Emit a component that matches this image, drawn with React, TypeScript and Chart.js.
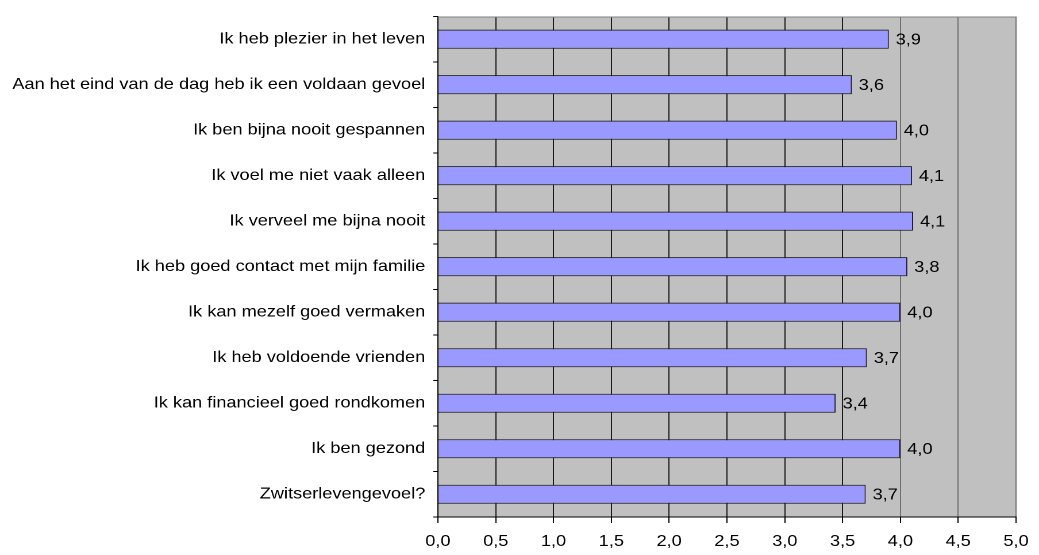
import { useEffect, useRef } from 'react';
import { Chart, registerables } from 'chart.js';

Chart.register(...registerables);

const categories = [
  'Ik heb plezier in het leven',
  'Aan het eind van de dag heb ik een voldaan gevoel',
  'Ik ben bijna nooit gespannen',
  'Ik voel me niet vaak alleen',
  'Ik verveel me bijna nooit',
  'Ik heb goed contact met mijn familie',
  'Ik kan mezelf goed vermaken',
  'Ik heb voldoende vrienden',
  'Ik kan financieel goed rondkomen',
  'Ik ben gezond',
  'Zwitserlevengevoel?',
];

// bar lengths as drawn in the picture
const scores = [3.9, 3.58, 3.97, 4.1, 4.11, 4.06, 4.0, 3.71, 3.44, 4.0, 3.7];
// data labels as printed next to the bars
const scoreLabels = ['3,9', '3,6', '4,0', '4,1', '4,1', '3,8', '4,0', '3,7', '3,4', '4,0', '3,7'];

const xMin = 0;
const xMax = 5;
const xStep = 0.5;

const FONT = "'Liberation Sans', Arial, sans-serif";
const FONT_SIZE = 15.8;
const CANVAS_W = 904;
const STRETCH = 1039 / CANVAS_W;

const fmt = (v: number) => v.toFixed(1).replace('.', ',');

export default function App() {
  const ref = useRef<HTMLCanvasElement | null>(null);

  useEffect(() => {
    if (!ref.current) return;

    const plotBg = {
      id: 'plotBg',
      beforeDraw(chart: any) {
        const { ctx, chartArea: a } = chart;
        ctx.save();
        ctx.fillStyle = '#C0C0C0';
        ctx.fillRect(a.left, a.top, a.right - a.left, a.bottom - a.top);
        ctx.restore();
      },
      afterDraw(chart: any) {
        const { ctx, chartArea: a } = chart;
        ctx.save();
        ctx.strokeStyle = '#808080';
        ctx.lineWidth = 1;
        ctx.beginPath();
        ctx.moveTo(a.left, a.top + 0.5);
        ctx.lineTo(a.right, a.top + 0.5);
        ctx.stroke();
        ctx.restore();
      },
    };

    const valueLabels = {
      id: 'valueLabels',
      afterDatasetsDraw(chart: any) {
        const { ctx } = chart;
        const meta = chart.getDatasetMeta(0);
        ctx.save();
        ctx.font = `${FONT_SIZE}px ${FONT}`;
        ctx.fillStyle = '#000';
        ctx.textAlign = 'left';
        ctx.textBaseline = 'middle';
        meta.data.forEach((el: any, i: number) => {
          ctx.fillText(scoreLabels[i], el.x + 6, el.y + 1);
        });
        ctx.restore();
      },
    };

    const chart = new Chart(ref.current, {
      type: 'bar',
      data: {
        labels: categories,
        datasets: [
          {
            data: scores,
            backgroundColor: '#9999FF',
            borderColor: '#1a1a1a',
            borderWidth: 1,
            borderSkipped: 'start',
            barPercentage: 0.42,
            categoryPercentage: 1,
          },
        ],
      },
      options: {
        indexAxis: 'y',
        animation: false,
        responsive: false,
        devicePixelRatio: 2,
        layout: { padding: { top: 11, right: 20, left: 0, bottom: 0 } },
        plugins: {
          legend: { display: false },
          tooltip: { enabled: false },
        },
        scales: {
          x: {
            min: xMin,
            max: xMax,
            ticks: {
              stepSize: xStep,
              color: '#000',
              font: { family: FONT, size: FONT_SIZE },
              padding: 9,
              callback: (v: any) => fmt(Number(v)),
            },
            grid: {
              drawOnChartArea: true,
              drawTicks: true,
              tickLength: 6,
              tickColor: '#000',
              color: (c: any) => (c.tick && c.tick.value >= 4 ? '#707070' : '#1a1a1a'),
              lineWidth: 1,
            },
            border: { display: true, color: '#000', width: 1 },
            afterFit: (s: any) => {
              s.height = 38;
            },
          },
          y: {
            ticks: {
              color: '#000',
              font: { family: FONT, size: FONT_SIZE },
              padding: 7,
            },
            grid: {
              offset: true,
              drawOnChartArea: false,
              drawTicks: true,
              tickLength: 4,
              color: '#000',
            },
            border: { display: true, color: '#000', width: 1 },
            afterFit: (s: any) => {
              s.width = 381;
            },
          },
        },
      },
      plugins: [plotBg, valueLabels],
    });

    return () => chart.destroy();
  }, []);

  return (
    <div style={{ position: 'absolute', left: 0, top: 0, width: 1039, height: 555, overflow: 'hidden', background: '#fff' }}>
      <div style={{ width: CANVAS_W, height: 555, transform: `scaleX(${STRETCH})`, transformOrigin: '0 0' }}>
        <canvas ref={ref} width={CANVAS_W} height={555} style={{ width: CANVAS_W, height: 555, display: 'block' }} />
      </div>
    </div>
  );
}
